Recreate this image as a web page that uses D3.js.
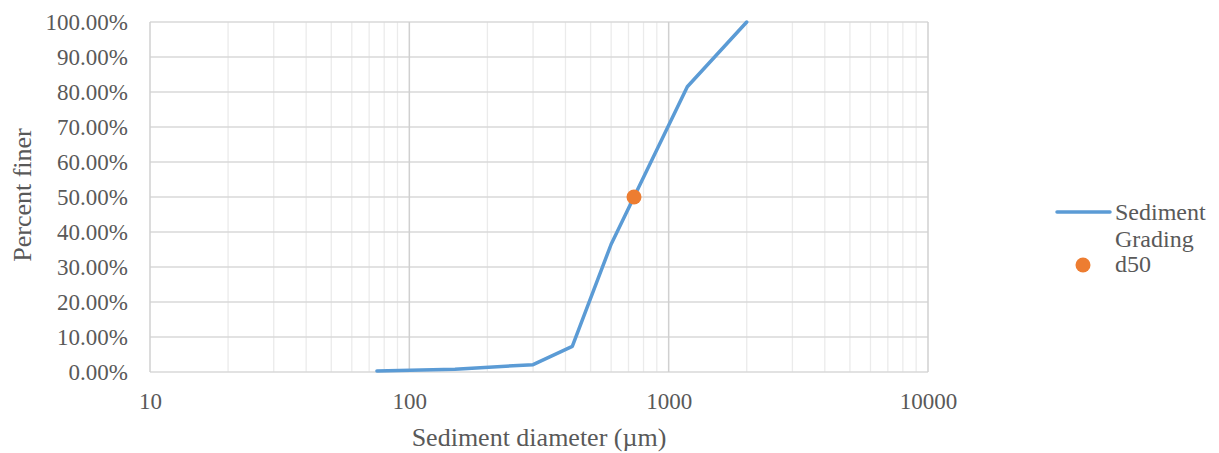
<!DOCTYPE html>
<html>
<head>
<meta charset="utf-8">
<script src="https://cdn.jsdelivr.net/npm/d3@7"></script>
<style>
  body { margin: 0; background: #fff; }
</style>
</head>
<body>
<svg id="chart" width="1219" height="453"></svg>
<script>
// sieve diameters (µm) and cumulative percent finer
const diameters = [75, 150, 300, 425, 600, 1180, 2000];
const percentFiner = [0.003, 0.008, 0.021, 0.073, 0.365, 0.815, 1.0];
const d50 = [{ x: 735, y: 0.5 }];
const xTicks = [10, 100, 1000, 10000];
const yTicks = [0, 0.1, 0.2, 0.3, 0.4, 0.5, 0.6, 0.7, 0.8, 0.9, 1.0];
const legendItems = ["Sediment|Grading", "d50"];

const serif = "'Liberation Serif', 'Times New Roman', 'DejaVu Serif', serif";
const textColor = "#595959";
const size = { left: 150, top: 22, width: 778, height: 350 };

const svg = d3.select("#chart")
  .attr("font-family", serif)
  .style("font-family", serif);
const g = svg.append("g")
  .attr("transform", "translate(" + size.left + "," + size.top + ")");

const x = d3.scaleLog().domain([10, 10000]).range([0, size.width]);
const y = d3.scaleLinear().domain([0, 1]).range([size.height, 0]);

// minor vertical grid
const minor = [];
[10, 100, 1000].forEach(dec => { for (let k = 2; k <= 9; k++) minor.push(dec * k); });
g.append("g").selectAll("line").data(minor).join("line")
  .attr("x1", d => x(d)).attr("x2", d => x(d))
  .attr("y1", 0).attr("y2", size.height)
  .attr("stroke", "#ebebeb").attr("stroke-width", 1.3);

// horizontal grid
g.append("g").selectAll("line").data(yTicks).join("line")
  .attr("x1", 0).attr("x2", size.width)
  .attr("y1", d => y(d)).attr("y2", d => y(d))
  .attr("stroke", "#d9d9d9").attr("stroke-width", 1.3);

// major vertical grid
g.append("g").selectAll("line").data(xTicks).join("line")
  .attr("x1", d => x(d)).attr("x2", d => x(d))
  .attr("y1", 0).attr("y2", size.height)
  .attr("stroke", "#d0d0d0").attr("stroke-width", 1.5);

// axes
const yAxis = d3.axisLeft(y).tickValues(yTicks).tickSize(0).tickPadding(22)
  .tickFormat(d => (d * 100).toFixed(2) + "%");
g.append("g").call(yAxis)
  .attr("font-family", serif).attr("font-size", 23)
  .call(s => s.select(".domain").remove())
  .selectAll("text").attr("fill", textColor);

const xAxis = d3.axisBottom(x).tickValues(xTicks).tickSize(0).tickPadding(21)
  .tickFormat(d3.format("d"));
g.append("g").attr("transform", "translate(0," + size.height + ")").call(xAxis)
  .attr("font-family", serif).attr("font-size", 23)
  .call(s => s.select(".domain").remove())
  .selectAll("text").attr("fill", textColor);

// grading curve
const line = d3.line().x(d => x(d[0])).y(d => y(d[1]));
g.append("path")
  .datum(diameters.map((d, i) => [d, percentFiner[i]]))
  .attr("d", line)
  .attr("fill", "none")
  .attr("stroke", "#5b9bd5")
  .attr("stroke-width", 3.5)
  .attr("stroke-linejoin", "round")
  .attr("stroke-linecap", "round");

// d50 marker
g.selectAll("circle.d50").data(d50).join("circle")
  .attr("class", "d50")
  .attr("cx", d => x(d.x)).attr("cy", d => y(d.y))
  .attr("r", 7.5)
  .attr("fill", "#ed7d31");

// axis titles
svg.append("text")
  .attr("x", 539).attr("y", 446)
  .attr("text-anchor", "middle")
  .attr("fill", textColor)
  .attr("font-size", 26)
  .text("Sediment diameter (\u00b5m)");

svg.append("text")
  .attr("transform", "translate(31,195) rotate(-90)")
  .attr("text-anchor", "middle")
  .attr("fill", textColor)
  .attr("font-size", 26)
  .text("Percent finer");

// legend
const legend = svg.append("g").attr("transform", "translate(1057,212)");
legend.append("line")
  .attr("x1", 0).attr("x2", 53).attr("y1", 0).attr("y2", 0)
  .attr("stroke", "#5b9bd5").attr("stroke-width", 3.5).attr("stroke-linecap", "round");
legend.append("text")
  .attr("x", 58).attr("y", 8)
  .attr("fill", textColor)
  .attr("font-size", 24)
  .selectAll("tspan").data(legendItems[0].split("|")).join("tspan")
  .attr("x", 58).attr("dy", (d, i) => i === 0 ? 0 : 27)
  .text(d => d);
legend.append("circle")
  .attr("cx", 26).attr("cy", 53).attr("r", 7.5).attr("fill", "#ed7d31");
legend.append("text")
  .attr("x", 58).attr("y", 60)
  .attr("fill", textColor)
  .attr("font-size", 24)
  .text(legendItems[1]);
</script>
</body>
</html>
